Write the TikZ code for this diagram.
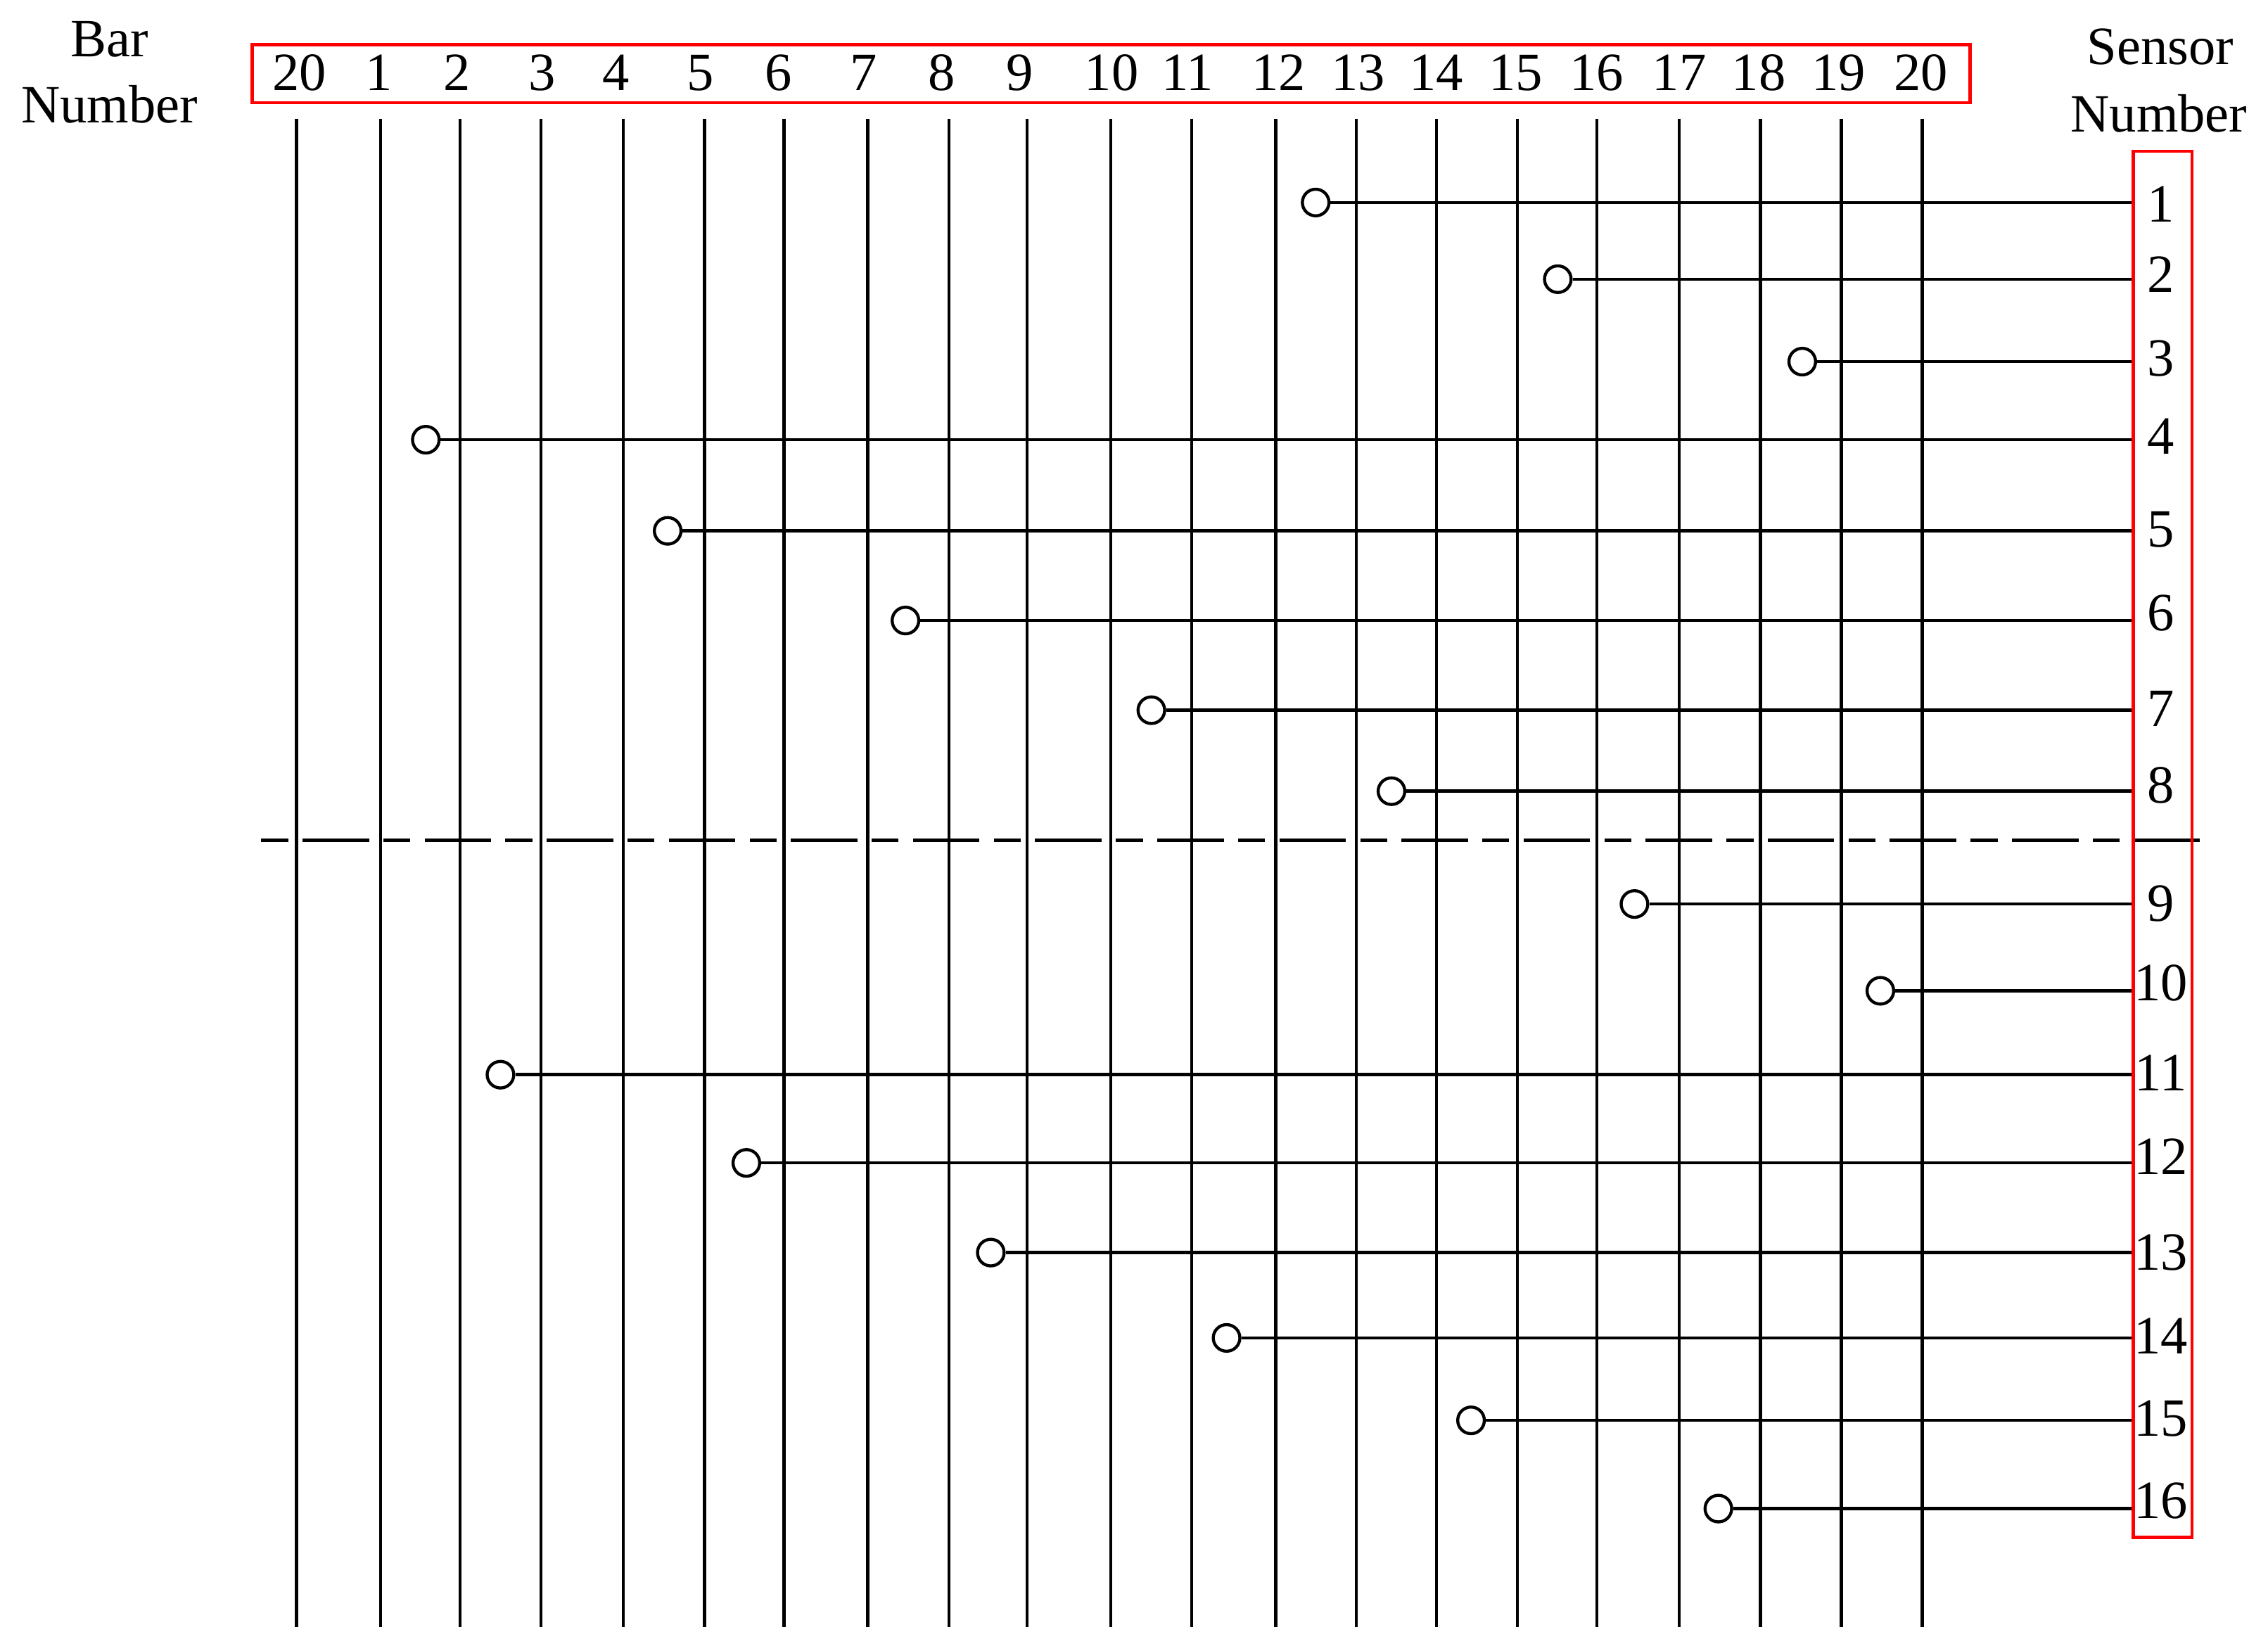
\documentclass[tikz,border=0pt]{standalone}
\usepackage{fontspec}
\setmainfont{Liberation Serif}
\begin{document}
\begin{tikzpicture}[x=0.1mm,y=-0.1mm,
  bar/.style={line width=0.62pt,black},
  wire/.style={line width=0.62pt,black},
  redbox/.style={draw=red,line width=0.65pt},
  sensorpt/.style={circle,draw,line width=0.6pt,fill=white,inner sep=0pt,minimum size=1.84mm},
  lab/.style={inner sep=0pt,font=\fontsize{10.6pt}{13pt}\selectfont},
  divider/.style={line width=0.62pt,dash pattern=on 5.29pt off 2.82pt on 13.09pt off 2.82pt}]
\useasboundingbox (0,0) rectangle (1568,1141);
% vertical bars
\foreach \x [count=\i] in {205,263,318,374,431,487,542,600,656,710,768,824,882,937.6,993,1049,1104,1161,1217,1273,1329}{
  \coordinate (t\i) at (\x,82);
  \coordinate (b\i) at (\x,1125);
  \draw[bar] (t\i) -- (b\i);
}
% bar number labels
\foreach \x/\t [count=\i] in {207/20,262/1,316/2,375/3,426/4,484/5,538/6,597/7,651/8,705/9,768.5/10,821/11,884/12,939/13,993/14,1048/15,1104/16,1161/17,1216/18,1271/19,1328/20}{
  \node[lab,anchor=base] (bl\i) at (\x,62.5) {\t};
}
% sensors
\foreach \k/\cx/\y/\ly in {1/909.6/140/141.5,2/1077/193/190,3/1246/250/248,4/294.4/304/302,5/461.6/367/366,6/626/429/424,7/796/491/490,8/962/547/543,9/1130/625/625,10/1300/685/680,11/346/743/742,12/516/804/800,13/685/866/866,14/848/925/924,15/1017/982/981,16/1188/1043/1038}{
  \node[sensorpt] (c\k) at (\cx,\y) {};
  \coordinate (e\k) at (1475,\y);
  \draw[wire] (c\k) -- (e\k);
  \node[lab,anchor=base] (s\k) at (1494,\ly+12) {\k};
}
% dashed divider
\coordinate (dl) at (180.6,581);
\coordinate (dr) at (1521,581);
\draw[divider] (dl) -- (dr);
% red boxes
\draw[redbox] (174.5,31) rectangle (1362,71);
\draw[redbox] (1475,104.6) rectangle (1515.5,1063);
% titles
\node[lab,anchor=base] (bar1) at (75.7,39) {Bar};
\node[lab,anchor=base] (bar2) at (75.7,85) {Number};
\node[lab,anchor=base] (sen1) at (1493.7,44.6) {Sensor};
\node[lab,anchor=base] (sen2) at (1492.6,91) {Number};
\end{tikzpicture}
\end{document}
